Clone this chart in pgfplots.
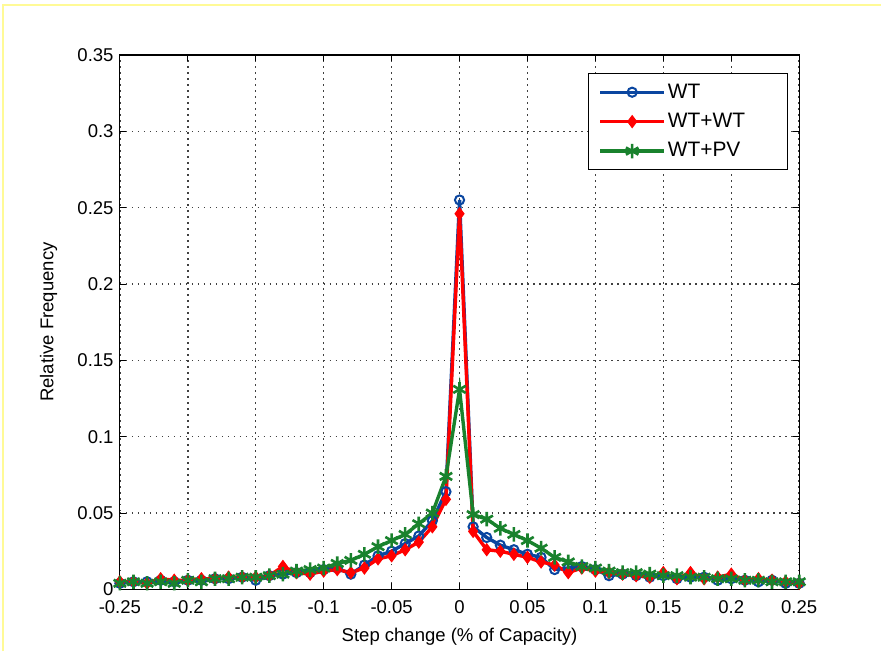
\documentclass[border=0pt]{standalone}
\usepackage{pgfplots}
\pgfplotsset{compat=1.18}
\usepackage{fontspec}
\setmainfont{Liberation Sans}
\definecolor{mblue}{RGB}{10,70,160}
\definecolor{mred}{RGB}{255,0,0}
\definecolor{mgreen}{RGB}{25,130,45}
\definecolor{fr}{RGB}{255,250,150}
\pgfplotstableread{
x wt wtwt wtpv
-0.25 0.004 0.005 0.004
-0.24 0.005 0.005 0.005
-0.23 0.005 0.004 0.004
-0.22 0.006 0.007 0.005
-0.21 0.005 0.006 0.004
-0.20 0.006 0.006 0.006
-0.19 0.006 0.007 0.005
-0.18 0.007 0.007 0.007
-0.17 0.007 0.008 0.007
-0.16 0.008 0.008 0.008
-0.15 0.006 0.008 0.008
-0.14 0.009 0.009 0.009
-0.13 0.010 0.015 0.010
-0.12 0.011 0.011 0.012
-0.11 0.011 0.010 0.013
-0.10 0.013 0.012 0.014
-0.09 0.014 0.013 0.017
-0.08 0.010 0.011 0.019
-0.07 0.016 0.014 0.023
-0.06 0.022 0.020 0.028
-0.05 0.025 0.022 0.032
-0.04 0.030 0.026 0.036
-0.03 0.035 0.031 0.043
-0.02 0.045 0.041 0.050
-0.01 0.064 0.059 0.074
0.00 0.255 0.246 0.131
0.01 0.041 0.038 0.049
0.02 0.034 0.026 0.046
0.03 0.029 0.025 0.040
0.04 0.026 0.023 0.036
0.05 0.023 0.021 0.032
0.06 0.021 0.018 0.027
0.07 0.013 0.016 0.021
0.08 0.014 0.011 0.018
0.09 0.015 0.014 0.015
0.10 0.013 0.012 0.014
0.11 0.009 0.011 0.012
0.12 0.010 0.010 0.011
0.13 0.009 0.009 0.011
0.14 0.008 0.008 0.010
0.15 0.009 0.011 0.009
0.16 0.007 0.007 0.009
0.17 0.008 0.011 0.008
0.18 0.008 0.007 0.008
0.19 0.006 0.008 0.007
0.20 0.007 0.010 0.007
0.21 0.006 0.006 0.006
0.22 0.005 0.007 0.006
0.23 0.006 0.006 0.005
0.24 0.004 0.005 0.005
0.25 0.004 0.004 0.005
}\data
\begin{document}
\fontsize{9}{11}\selectfont
\begin{tikzpicture}[x=1bp,y=1bp]
\fill[white] (0,0) rectangle (441,326);
\draw[fr, line width=0.9bp] (1.5,0) -- (1.5,323.5) -- (441,323.5);
\begin{axis}[
  at={(60bp,31bp)}, anchor=south west,
  scale only axis, width=340bp, height=267.5bp,
  xmin=-0.25, xmax=0.25, ymin=0, ymax=0.35,
  xtick={-0.25,-0.2,-0.15,-0.1,-0.05,0,0.05,0.1,0.15,0.2,0.25},
  xticklabels={-0.25,-0.2,-0.15,-0.1,-0.05,0,0.05,0.1,0.15,0.2,0.25},
  ytick={0,0.05,0.1,0.15,0.2,0.25,0.3,0.35},
  yticklabels={0,0.05,0.1,0.15,0.2,0.25,0.3,0.35},
  scaled ticks=false,
  tick align=inside, major tick length=3bp,
  tick style={black, line width=0.5bp},
  axis line style={black, line width=0.6bp},
  grid=major,
  major grid style={black!75, line width=0.75bp, dash pattern=on 0.75bp off 2.25bp},
  tick label style={font=\fontsize{9.3}{11}\selectfont},
  xticklabel style={yshift=-2.5bp},
  label style={font=\fontsize{9.3}{11}\selectfont},
  xlabel={Step change (\% of Capacity)},
  ylabel={Relative Frequency},
  xlabel style={yshift=-1bp},
  ylabel style={yshift=4bp},
  legend style={at={(0.984,0.966)}, anchor=north east, draw=black, line width=0.6bp,
    font=\fontsize{10.5}{12}\selectfont, row sep=2.2bp, inner xsep=5bp, inner ysep=3bp,
    cells={anchor=west}, nodes={inner xsep=1bp, text width=54bp}},
  legend image code/.code={\draw[mark repeat=2,mark phase=2] plot coordinates {(0bp,0bp) (16bp,0bp) (32bp,0bp)};},
]
\addplot[mblue, line width=1.7bp, mark=o, mark size=2.3bp, mark options={line width=1bp}] table[x=x,y=wt] {\data};
\addlegendentry{WT}
\addplot[mred, line width=1.7bp, mark=diamond*, mark size=3bp, mark options={line width=0.5bp}] table[x=x,y=wtwt] {\data};
\addlegendentry{WT+WT}
\addplot[mgreen, line width=1.7bp, mark=asterisk, mark size=3.6bp, mark options={line width=1.3bp}] table[x=x,y=wtpv] {\data};
\addlegendentry{WT+PV}
\end{axis}
\end{tikzpicture}
\end{document}
